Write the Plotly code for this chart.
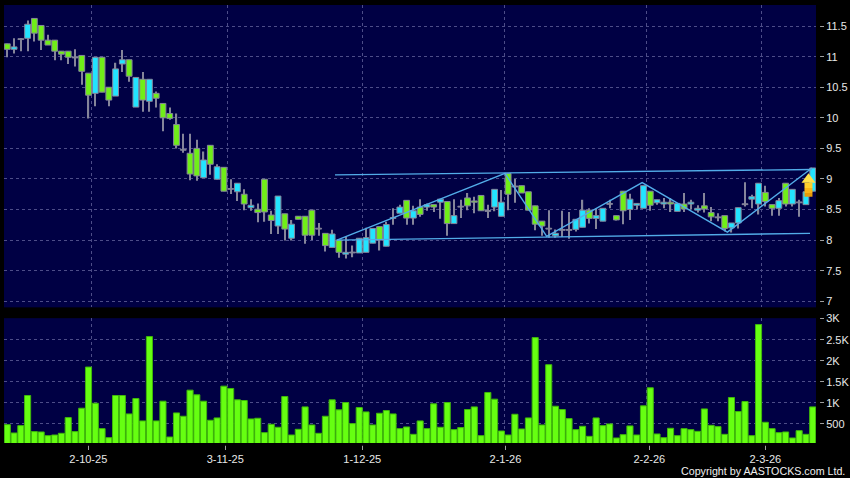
import plotly.graph_objects as go

# Price data (session index = list position)
opens = [11.21,11.12,11.28,11.30,11.625,11.51,11.27,11.27,11.09,11.09,10.98,11.02,10.73,10.40,10.99,10.50,10.355,10.88,10.95,10.175,
         10.63,10.27,10.40,10.235,10.07,9.89,9.47,9.42,9.50,9.02,9.55,8.995,9.19,8.83,8.79,8.75,8.53,8.505,8.995,8.41,
         8.23,8.43,8.03,8.39,8.39,8.49,8.18,8.11,7.88,8.00,7.77,7.79,7.79,7.80,7.95,8.22,7.90,8.355,8.44,8.65,
         8.36,8.54,8.54,8.58,8.62,8.63,8.27,8.54,8.69,8.64,8.73,8.47,8.54,8.39,9.09,8.87,8.89,8.79,8.56,8.31,
         8.18,8.07,8.16,8.16,8.175,8.21,8.49,8.355,8.31,8.585,8.40,8.80,8.50,8.57,8.52,8.80,8.61,8.59,8.62,8.47,
         8.59,8.59,8.49,8.56,8.45,8.365,8.40,8.20,8.28,8.58,8.67,8.59,8.78,8.58,8.52,8.93,8.59,8.61,8.58,8.80]
highs = [11.21,11.30,11.30,11.59,11.625,11.51,11.36,11.27,11.09,11.09,11.12,11.02,10.73,10.99,10.99,10.50,10.90,11.11,10.95,10.66,
         10.75,10.63,10.43,10.235,10.17,10.07,9.74,9.74,9.64,9.45,9.55,9.24,9.19,8.995,8.93,8.83,8.67,8.60,8.995,8.48,
         8.72,8.43,8.33,8.39,8.39,8.49,8.28,8.11,8.17,8.00,8.06,7.91,8.03,8.20,8.19,8.22,8.30,8.52,8.58,8.65,
         8.56,8.67,8.60,8.58,8.67,8.63,8.67,8.66,8.77,8.71,8.73,8.58,8.83,8.82,9.09,9.00,8.89,8.79,8.56,8.31,
         8.49,8.175,8.48,8.46,8.34,8.66,8.52,8.52,8.52,8.66,8.40,8.80,8.76,8.60,8.89,8.80,8.66,8.69,8.69,8.60,
         8.77,8.66,8.57,8.77,8.54,8.44,8.40,8.28,8.53,8.945,8.74,8.93,8.89,8.58,8.69,8.93,8.83,8.66,8.79,9.18]
lows = [10.99,11.05,11.09,11.09,11.25,11.11,11.19,10.94,10.94,10.88,10.84,10.54,9.99,10.19,10.42,10.19,10.355,10.75,10.59,10.175,
        10.10,10.10,10.17,9.78,9.97,9.50,9.43,8.98,8.97,9.02,9.07,8.99,8.80,8.755,8.64,8.49,8.48,8.29,8.30,8.10,
        8.10,7.995,7.995,8.34,7.94,8.00,8.07,7.815,7.88,7.71,7.70,7.72,7.79,7.80,7.95,7.83,7.90,8.25,8.44,8.25,
        8.25,8.38,8.48,8.46,8.35,8.07,8.27,8.36,8.49,8.44,8.48,8.36,8.47,8.39,8.49,8.61,8.77,8.49,8.16,8.07,
        8.04,8.04,8.05,8.02,8.14,8.21,8.27,8.18,8.31,8.52,8.32,8.26,8.33,8.50,8.52,8.48,8.58,8.52,8.46,8.47,
        8.46,8.50,8.45,8.45,8.31,8.31,8.14,8.125,8.19,8.55,8.52,8.42,8.55,8.40,8.40,8.55,8.55,8.38,8.58,8.80]
closes = [11.12,11.16,11.28,11.53,11.385,11.27,11.19,11.09,11.04,10.99,10.98,10.76,10.37,10.99,10.42,10.29,10.80,10.95,10.68,10.66,
          10.29,10.63,10.32,10.00,9.99,9.55,9.47,9.08,9.05,9.31,9.24,9.20,8.80,8.83,8.93,8.59,8.57,8.45,8.46,8.32,
          8.72,8.18,8.26,8.34,8.08,8.08,8.18,7.91,8.10,7.80,7.80,7.79,8.03,8.04,8.19,8.00,8.255,8.355,8.54,8.36,
          8.48,8.42,8.58,8.54,8.67,8.27,8.40,8.54,8.56,8.62,8.48,8.47,8.83,8.62,8.75,8.87,8.77,8.49,8.26,8.23,
          8.18,8.11,8.16,8.16,8.34,8.49,8.355,8.40,8.52,8.585,8.33,8.48,8.67,8.60,8.89,8.57,8.66,8.62,8.59,8.60,
          8.51,8.62,8.52,8.51,8.38,8.365,8.19,8.28,8.53,8.58,8.71,8.93,8.63,8.52,8.645,8.59,8.83,8.61,8.79,9.18]
volumes = [484,286,460,1175,318,310,222,238,278,651,318,873,1850,992,389,175,1175,1175,738,1104,
           572,2573,572,1040,190,762,683,1302,1191,1040,588,643,1397,1342,1072,1056,619,635,294,492,
           421,1151,238,373,905,476,278,683,1072,834,1008,508,889,786,476,754,818,738,389,429,
           254,572,389,977,421,1008,365,413,842,905,222,1247,1088,333,238,730,381,643,2549,476,
           1906,921,842,627,365,445,206,643,460,500,167,246,453,238,929,1358,262,175,397,222,
           389,365,325,857,468,437,254,1127,794,1032,222,2858,540,389,294,310,167,341,254,905]
sessions = list(range(len(closes)))

# Axis ticks
price_ticks = [7, 7.5, 8, 8.5, 9, 9.5, 10, 10.5, 11, 11.5]
volume_ticks = [500, 1000, 1500, 2000, 2500, 3000]
volume_labels = ["500", "1K", "1.5K", "2K", "2.5K", "3K"]
date_ticks = [11.97, 32.2, 52.45, 73.6, 94.86, 112.0]
date_labels = ["2-10-25", "3-11-25", "1-12-25", "2-1-26", "2-2-26", "2-3-26"]
date_grid = [12.47, 32.56, 52.45, 73.43, 94.44, 111.47]

# Trend lines drawn on the price panel
upper_x = [48.42, 118.9]
upper_y = [9.067, 9.154]
lower_x = [48.7, 118.6]
lower_y = [8.0, 8.11]
zigzag_x = [48.7, 73.54, 79.7, 93.8, 106.4, 118.9]
zigzag_y = [8.0, 9.09, 8.06, 8.94, 8.13, 9.18]

BG = "#000044"
GRID = "#4d4d88"
LINE = "#52ace8"
GREEN = "#70ee18"
CYAN = "#22e4ff"
WICK = "#85859a"
TEXT = "#e8e8e8"
FONT = "Liberation Sans"

fig = go.Figure()
# High-low wicks
wick_height = [h - l for h, l in zip(highs, lows)]
fig.add_trace(go.Bar(x=sessions, y=wick_height, base=lows, width=0.18,
                     marker=dict(color=WICK, line=dict(width=0)),
                     xaxis="x", yaxis="y", showlegend=False))
# Open-close bodies
body_base = [min(o, c) for o, c in zip(opens, closes)]
body_height = [max(abs(c - o), 0.014) for o, c in zip(opens, closes)]
body_color = [WICK if abs(c - o) < 0.012 else (CYAN if c > o else GREEN) for o, c in zip(opens, closes)]
fig.add_trace(go.Bar(x=sessions, y=body_height, base=body_base, width=0.86,
                     marker=dict(color=body_color, line=dict(color=WICK, width=1)),
                     xaxis="x", yaxis="y", showlegend=False))
for xs, ys in [(upper_x, upper_y), (lower_x, lower_y), (zigzag_x, zigzag_y)]:
    fig.add_trace(go.Scatter(x=xs, y=ys, mode="lines", line=dict(color=LINE, width=1.4),
                             xaxis="x", yaxis="y", showlegend=False, hoverinfo="skip"))
fig.add_trace(go.Bar(x=sessions, y=volumes, width=0.9,
                     marker=dict(color="#66ff11", line=dict(color="#3fb80a", width=1)),
                     xaxis="x2", yaxis="y2", showlegend=False))
# An invisible trace carries the date axis under the volume panel
fig.add_trace(go.Scatter(x=date_ticks, y=[volume_ticks[0]] * len(date_ticks), mode="markers",
                         marker=dict(opacity=0), xaxis="x3", yaxis="y2",
                         showlegend=False, hoverinfo="skip"))

xr = [-0.488, 119.49]
gridstyle = dict(showgrid=True, gridcolor=GRID, gridwidth=1, griddash="3px,3px", zeroline=False)
fig.update_layout(
    width=850, height=478, paper_bgcolor="#000000", plot_bgcolor=BG,
    margin=dict(l=4, r=34, t=5, b=34.5, autoexpand=False),
    font=dict(family=FONT, size=11, color=TEXT),
    barmode="overlay", showlegend=False,
    xaxis=dict(domain=[0, 1], range=xr, anchor="y", tickmode="array", tickvals=date_grid,
               showticklabels=False, ticks="", **gridstyle),
    yaxis=dict(domain=[0.3097, 1], range=[6.90, 11.845], side="right", anchor="x",
               tickmode="array", tickvals=price_ticks, ticktext=[f"{v:g}" for v in price_ticks],
               ticks="outside", ticklen=7, tickcolor="#a0a0a0", **gridstyle),
    xaxis2=dict(domain=[0, 1], range=xr, anchor="y2", tickmode="array", tickvals=date_grid,
                showticklabels=False, ticks="", **gridstyle),
    yaxis2=dict(domain=[0, 0.285], range=[48, 3010], side="right", anchor="x2",
                tickmode="array", tickvals=volume_ticks, ticktext=volume_labels,
                ticks="outside", ticklen=7, tickcolor="#a0a0a0", **gridstyle),
    xaxis3=dict(domain=[0, 1], range=xr, anchor="y2", overlaying="x2", side="bottom",
                tickmode="array", tickvals=date_ticks, ticktext=date_labels,
                ticks="outside", ticklen=6, tickcolor="#a0a0a0", showgrid=False, zeroline=False),
    annotations=[dict(text="Copyright by AASTOCKS.com Ltd.", xref="paper", yref="paper",
                      x=1.038, y=-0.065, xanchor="right", yanchor="middle", showarrow=False,
                      font=dict(family=FONT, size=10.7, color="#f0f0f0"))],
)

# Black strips make the axis ticks sit slightly away from the panels
strips = [
    dict(type="rect", xref="paper", yref="paper", x0=1, x1=1.005, y0=-0.001, y1=1.001,
         fillcolor="#000000", line_width=0, layer="above"),
    dict(type="rect", xref="paper", yref="paper", x0=-0.001, x1=1.001, y0=-0.0065, y1=0,
         fillcolor="#000000", line_width=0, layer="above"),
]
# The yellow arrow: stacked slices give its vertical gradient
def arrow_piece(path, color):
    return dict(type="path", xref="x", yref="y", xsizemode="pixel", ysizemode="pixel",
                xanchor=119, yanchor=9.0, path=path, fillcolor=color, line_width=0, layer="above")
arrow = [
    arrow_piece("M -4.2,5.8 L -11.2,-3.7 L 2.8,-3.7 Z", "#ffe24a"),
    arrow_piece("M -8.2,-3.7 L -0.2,-3.7 L -0.2,-9 L -8.2,-9 Z", "#ffcf2c"),
    arrow_piece("M -8.2,-9 L -0.2,-9 L -0.2,-14 L -8.2,-14 Z", "#f8b516"),
    arrow_piece("M -8.2,-14 L -0.2,-14 L -0.2,-17.7 L -8.2,-17.7 Z", "#e89a08"),
]
fig.update_layout(shapes=strips + arrow)

# The page's default body margin would push the chart off its 850x478 frame
fig.write_html("out.html", config=dict(displayModeBar=False),
               post_script="document.body.style.margin='0';document.body.style.background='#000';")
